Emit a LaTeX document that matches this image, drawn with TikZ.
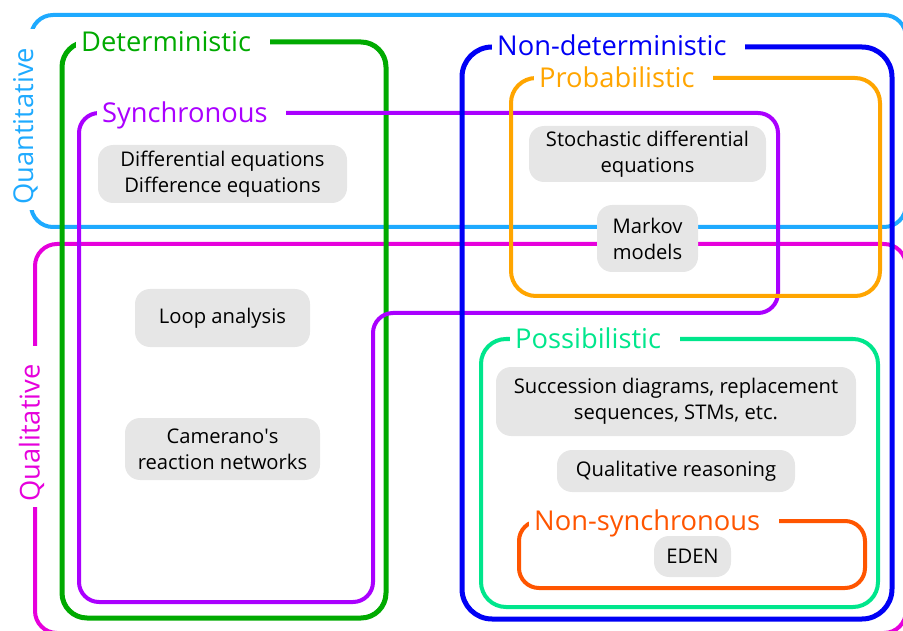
\documentclass[tikz,border=0pt]{standalone}
\usepackage{fontspec}
\setmainfont{Open Sans}
\newfontfamily\plainfont{Open Sans}
\usepackage{tikz}
\usetikzlibrary{shapes}
\definecolor{quantcol}{RGB}{30,170,255}
\definecolor{qualcol}{RGB}{230,0,220}
\definecolor{detcol}{RGB}{0,170,0}
\definecolor{synccol}{RGB}{170,0,255}
\definecolor{nondetcol}{RGB}{0,0,245}
\definecolor{probcol}{RGB}{255,165,0}
\definecolor{posscol}{RGB}{0,230,140}
\definecolor{nonsynccol}{RGB}{255,85,0}
\definecolor{boxgray}{RGB}{230,230,230}
\tikzstyle{region} = [line width=4pt, rounded corners=22pt]
\tikzstyle{tag} = [fill=white, anchor=west, inner xsep=5pt, inner ysep=3pt, text height=19pt, text depth=0pt, font=\fontsize{27.3}{27}\selectfont]
\tikzstyle{item} = [fill=boxgray, rounded corners=15pt, align=center, inner sep=0pt, font=\fontsize{20.2}{26}\selectfont]

\begin{document}
\begin{tikzpicture}[x=1pt,y=-1pt]
\useasboundingbox (0,0) rectangle (903,631);
% regions
\draw [region,color=quantcol] (31,15) rectangle (906,227);
\draw [region,color=qualcol] (35,244) rectangle (906,633);
\draw [region,color=detcol,line width=5pt,rounded corners=25pt] (62,42) rectangle (386,618);
\draw [region,color=synccol,rounded corners=20pt] (79,113) -- (778,113) -- (778,313) -- (373,313) -- (373,602) -- (79,602) -- cycle;
\draw [region,color=nondetcol,line width=5pt,rounded corners=30pt] (462,47) rectangle (892,619);
\draw [region,color=probcol,rounded corners=25pt] (511,78) rectangle (880,296);
\draw [region,color=posscol,rounded corners=25pt] (481,339) rectangle (878,607);
\draw [region,color=nonsynccol,rounded corners=20pt] (519,521) rectangle (865,588);
% region names
\node[tag,text=quantcol,rotate=90] (quant) at (23.5,210) {Quantitative\enspace};
\node[tag,text=qualcol,rotate=90] (qual) at (30,507) {Qualitative\enspace};
\node[tag,text=detcol] (det) at (76,42) {Deterministic\enspace};
\node[tag,text=synccol] (sync) at (97,113) {Synchronous\enspace};
\node[tag,text=nondetcol] (nondet) at (492,46) {Non-deterministic\enspace};
\node[tag,text=probcol] (prob) at (534,78) {Probabilistic\enspace};
\node[tag,text=posscol] (poss) at (510,339) {Possibilistic\enspace};
\node[tag,text=nonsynccol] (nonsync) at (529,521) {Non-synchronous\enspace};
% methods
\node[item,minimum width=249pt,minimum height=58pt] (diffeq) at (222.5,174) {Differential equations\\Difference equations};
\node[item,minimum width=175pt,minimum height=58pt] (loop) at (222.5,318) {Loop analysis};
\node[item,minimum width=195pt,minimum height=62pt] (camerano) at (222.5,449) {Camerano{\plainfont'}s\\reaction networks};
\node[item,minimum width=237pt,minimum height=56pt] (stoch) at (647.5,154) {Stochastic differential\\equations};
\node[item,minimum width=101pt,minimum height=67pt] (markov) at (647.5,238.5) {Markov\\models};
\node[item,minimum width=360pt,minimum height=69pt] (succ) at (676,401.5) {Succession diagrams, replacement\\sequences, STMs, etc.};
\node[item,minimum width=238pt,minimum height=42pt] (qreason) at (676,471) {Qualitative reasoning};
\node[item,minimum width=77pt,minimum height=41pt] (eden) at (692.5,556.5) {EDEN};
\end{tikzpicture}
\end{document}
